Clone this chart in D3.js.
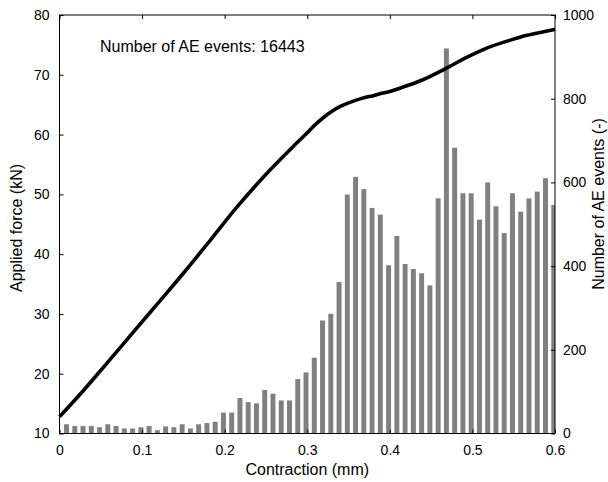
<!DOCTYPE html>
<html>
<head>
<meta charset="utf-8">
<script src="https://cdn.jsdelivr.net/npm/d3@7/dist/d3.min.js"></script>
<style>
  html, body { margin: 0; padding: 0; background: #fff; }
  svg { display: block; font-family: "Liberation Sans", Arial, sans-serif; }
</style>
</head>
<body>
<svg id="chart" width="608" height="482"></svg>
<script>
// AE event histogram: bin centres (mm) and event counts per bin
const binCenters = [
  0.0085, 0.0185, 0.0285, 0.0385, 0.0485, 0.0585, 0.0685, 0.0785, 0.0885, 0.0985,
  0.1085, 0.1185, 0.1285, 0.1385, 0.1485, 0.1585, 0.1685, 0.1785, 0.1885, 0.1985,
  0.2085, 0.2185, 0.2285, 0.2385, 0.2485, 0.2585, 0.2685, 0.2785, 0.2885, 0.2985,
  0.3085, 0.3185, 0.3285, 0.3385, 0.3485, 0.3585, 0.3685, 0.3785, 0.3885, 0.3985,
  0.4085, 0.4185, 0.4285, 0.4385, 0.4485, 0.4585, 0.4685, 0.4785, 0.4885, 0.4985,
  0.5085, 0.5185, 0.5285, 0.5385, 0.5485, 0.5585, 0.5685, 0.5785, 0.5885, 0.5985
];
const aeCounts = [
  22, 18, 18, 18, 15, 22, 18, 12, 12, 15,
  18, 8, 17, 15, 22, 12, 22, 25, 28, 50,
  50, 85, 75, 72, 104, 95, 79, 79, 130, 146,
  181, 270, 286, 362, 571, 613, 584, 539, 523, 402,
  472, 405, 393, 383, 354, 562, 920, 683, 574, 574,
  511, 600, 543, 479, 574, 530, 562, 578, 610, 546
];
const binWidth = 0.006;

// Applied force curve: contraction (mm) vs force (kN)
const contraction = [
  0, 0.029, 0.057, 0.086, 0.118, 0.150, 0.183, 0.215, 0.247, 0.283,
  0.300, 0.310, 0.320, 0.330, 0.340, 0.350, 0.360, 0.370, 0.380, 0.390,
  0.400, 0.413, 0.437, 0.467, 0.493, 0.518, 0.546, 0.566, 0.586, 0.600
];
const force = [
  12.8, 17.2, 21.7, 26.4, 31.6, 36.8, 42.4, 47.9, 52.9, 58.0,
  60.3, 61.7, 62.9, 63.9, 64.7, 65.3, 65.8, 66.2, 66.5, 66.9,
  67.2, 67.8, 69.0, 71.0, 72.9, 74.5, 75.8, 76.6, 77.2, 77.6
];

// Axis ticks
const xTicks = [0, 0.1, 0.2, 0.3, 0.4, 0.5, 0.6];
const forceTicks = [10, 20, 30, 40, 50, 60, 70, 80];
const countTicks = [0, 200, 400, 600, 800, 1000];

const annotation = "Number of AE events: 16443";
const xLabel = "Contraction (mm)";
const yLabelLeft = "Applied force (kN)";
const yLabelRight = "Number of AE events (-)";

const svg = d3.select("#chart");
const m = { left: 59.5, right: 555, top: 15, bottom: 433.5 };

const x = d3.scaleLinear().domain([0, 0.6]).range([m.left, m.right]);
const yF = d3.scaleLinear().domain([10, 80]).range([m.bottom, m.top]);
const yN = d3.scaleLinear().domain([0, 1000]).range([m.bottom, m.top]);

svg.append("defs").append("clipPath").attr("id", "plotClip")
  .append("rect")
  .attr("x", m.left).attr("y", m.top)
  .attr("width", m.right - m.left).attr("height", m.bottom - m.top);

// histogram bars
svg.append("g").attr("clip-path", "url(#plotClip)")
  .selectAll("rect")
  .data(binCenters.map((c, i) => ({ c, n: aeCounts[i] })))
  .join("rect")
  .attr("x", d => x(d.c - binWidth / 2))
  .attr("width", d => x(d.c + binWidth / 2) - x(d.c - binWidth / 2))
  .attr("y", d => yN(d.n))
  .attr("height", d => yN(0) - yN(d.n))
  .attr("fill", "#808080");

// force curve
const line = d3.line()
  .x(d => x(d[0]))
  .y(d => yF(d[1]))
  .curve(d3.curveMonotoneX);

svg.append("path")
  .datum(contraction.map((c, i) => [c, force[i]]))
  .attr("d", line)
  .attr("fill", "none")
  .attr("stroke", "#000")
  .attr("stroke-width", 3.6)
  .attr("stroke-linejoin", "round");

// axes frame and inward ticks
const tickLen = 4;
const axisStyle = g => {
  g.select(".domain").remove();
  g.selectAll("line").attr("stroke", "#000");
  g.selectAll("text").attr("fill", "#000").attr("font-size", 14);
};

svg.append("g")
  .attr("transform", `translate(0,${m.bottom})`)
  .call(d3.axisBottom(x).tickValues(xTicks).tickSize(-tickLen).tickPadding(12)
    .tickFormat(d3.format("")))
  .call(axisStyle);

svg.append("g")
  .attr("transform", `translate(0,${m.top})`)
  .call(d3.axisTop(x).tickValues(xTicks).tickSize(-tickLen).tickFormat(""))
  .call(axisStyle);

svg.append("g")
  .attr("transform", `translate(${m.left},0)`)
  .call(d3.axisLeft(yF).tickValues(forceTicks).tickSize(-tickLen).tickPadding(10)
    .tickFormat(d3.format("d")))
  .call(axisStyle);

svg.append("g")
  .attr("transform", `translate(${m.right},0)`)
  .call(d3.axisRight(yN).tickValues(countTicks).tickSize(-tickLen).tickPadding(8)
    .tickFormat(d3.format("d")))
  .call(axisStyle);

svg.append("rect")
  .attr("x", m.left).attr("y", m.top)
  .attr("width", m.right - m.left).attr("height", m.bottom - m.top)
  .attr("fill", "none").attr("stroke", "#000").attr("stroke-width", 1);

// labels
svg.append("text")
  .attr("x", 100).attr("y", 51.5)
  .attr("font-size", 16).attr("fill", "#000")
  .text(annotation);

svg.append("text")
  .attr("x", (m.left + m.right) / 2).attr("y", 475)
  .attr("text-anchor", "middle")
  .attr("font-size", 16).attr("fill", "#000")
  .text(xLabel);

svg.append("text")
  .attr("transform", "translate(22,228) rotate(-90)")
  .attr("text-anchor", "middle")
  .attr("font-size", 16).attr("fill", "#000")
  .text(yLabelLeft);

svg.append("text")
  .attr("transform", "translate(604,204) rotate(-90)")
  .attr("text-anchor", "middle")
  .attr("font-size", 16).attr("fill", "#000")
  .text(yLabelRight);
</script>
</body>
</html>
